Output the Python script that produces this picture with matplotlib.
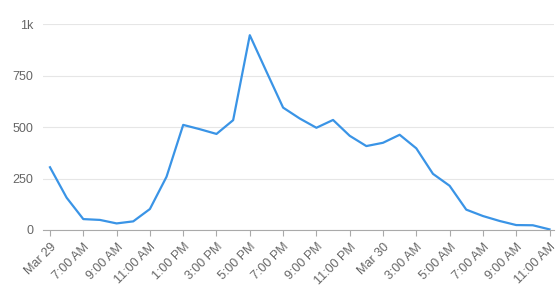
import matplotlib
matplotlib.use("Agg")
import matplotlib.pyplot as plt

plt.rcParams['font.family'] = ['Liberation Sans', 'DejaVu Sans']

# hours since Mar 29 5:00 AM
hours = list(range(0, 31))
values = [305, 157, 53, 49, 32, 42, 102, 259, 511, 490, 467, 534, 947,
          770, 595, 542, 497, 535, 458, 408, 424, 463, 397, 273, 215,
          99, 68, 44, 24, 23, 3]
tick_hours = list(range(0, 31, 2))
tick_labels = ["Mar 29", "7:00 AM", "9:00 AM", "11:00 AM", "1:00 PM", "3:00 PM",
               "5:00 PM", "7:00 PM", "9:00 PM", "11:00 PM", "Mar 30", "3:00 AM",
               "5:00 AM", "7:00 AM", "9:00 AM", "11:00 AM"]
y_ticks = [0, 250, 500, 750, 1000]
y_labels = ["0", "250", "500", "750", "1k"]

fig = plt.figure(figsize=(5.58, 2.96), dpi=100)
ax = fig.add_axes([43/558, 1-230/296, (554-43)/558, (230-24.3)/296])
ax.plot(hours, values, color='#3a94e6', lw=1.6, solid_joinstyle='round', clip_on=False)
ax.set_xlim(-0.42, 30.27)
ax.set_ylim(0, 1000)
ax.set_yticks(y_ticks)
ax.set_yticklabels(y_labels)
ax.set_xticks(tick_hours)
ax.set_xticklabels(tick_labels, rotation=45, ha='right', rotation_mode='anchor')
ax.grid(axis='y', color='#e6e6e6', lw=0.8)
ax.set_axisbelow(True)
for s in ['top', 'right', 'left']:
    ax.spines[s].set_visible(False)
ax.spines['bottom'].set_color('#aaaaaa')
ax.spines['bottom'].set_linewidth(0.8)
ax.tick_params(axis='y', length=0, pad=7, labelsize=9, labelcolor='#666666')
ax.tick_params(axis='x', length=4, width=0.8, color='#aaaaaa', pad=4, labelsize=9, labelcolor='#666666')
fig.savefig('out.png', dpi=100, facecolor='white')
